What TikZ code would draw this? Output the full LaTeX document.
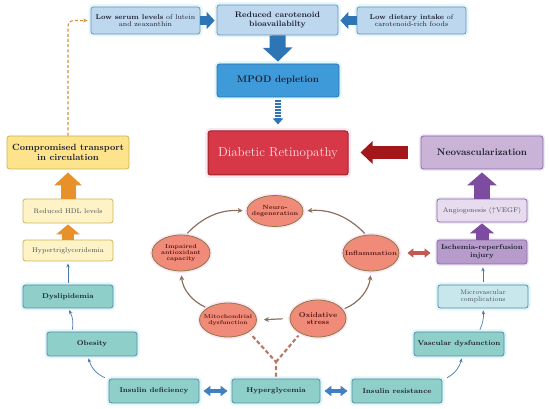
\documentclass[tikz,border=0pt]{standalone}
\usetikzlibrary{shapes.geometric,arrows.meta,calc}
\definecolor{topfill}{HTML}{BDD7EE}
\definecolor{topdraw}{HTML}{7F8DB5}
\definecolor{bluearr}{HTML}{2E75B6}
\definecolor{mpodfill}{HTML}{3E9AD8}
\definecolor{mpoddraw}{HTML}{2F6FB0}
\definecolor{drfill}{HTML}{D63848}
\definecolor{drdraw}{HTML}{9A2626}
\definecolor{drtext}{HTML}{FFE0E6}
\definecolor{redarr}{HTML}{A3161A}
\definecolor{neofill}{HTML}{C9B3D7}
\definecolor{purdraw}{HTML}{8A68A6}
\definecolor{angfill}{HTML}{E6DCEE}
\definecolor{ischfill}{HTML}{B79CCB}
\definecolor{purarr}{HTML}{7D4B9F}
\definecolor{tealfill}{HTML}{8FCFCA}
\definecolor{tealdraw}{HTML}{5B8A9E}
\definecolor{microfill}{HTML}{C8E7EC}
\definecolor{glowcyan}{HTML}{DDF7FB}
\definecolor{glowpink}{HTML}{FCE6F3}
\definecolor{glowlav}{HTML}{F1EAF7}
\definecolor{thinblue}{HTML}{4A78AE}
\definecolor{dblblue}{HTML}{3F7FC2}
\definecolor{compfill}{HTML}{FDE38C}
\definecolor{yeldraw}{HTML}{CDB352}
\definecolor{lightyel}{HTML}{FDF3C6}
\definecolor{orarr}{HTML}{E8912B}
\definecolor{dashor}{HTML}{D4903E}
\definecolor{ellfill}{HTML}{EF8B78}
\definecolor{elldraw}{HTML}{8A7A48}
\definecolor{elltext}{HTML}{5A1616}
\definecolor{ellarr}{HTML}{8D6F5F}
\definecolor{hyperdash}{HTML}{B87A68}
\definecolor{inflarr}{HTML}{C25A50}
\definecolor{ink}{HTML}{1E2030}
\definecolor{grayink}{HTML}{4A4A58}
\tikzset{
  box/.style={rectangle, rounded corners=2.5pt, line width=0.8pt, align=center, inner sep=1pt, text=ink},
  topbox/.style={box, fill=topfill, draw=topdraw, preaction={draw=glowcyan, line width=5pt},
    minimum width=109pt, minimum height=27pt, font=\fontsize{7}{7.6}\selectfont},
  bigbox/.style={box, minimum width=122pt, minimum height=33pt, font=\bfseries\fontsize{9}{10}\selectfont},
  tealbox/.style={box, fill=tealfill, draw=tealdraw, preaction={draw=glowcyan, line width=5pt},
    minimum width=90pt, minimum height=24pt, font=\bfseries\fontsize{7}{8}\selectfont},
  microbox/.style={box, fill=microfill, draw=tealdraw, preaction={draw=glowcyan, line width=5pt},
    minimum width=90pt, minimum height=23pt, font=\fontsize{6.6}{7.4}\selectfont, text=grayink},
  yelbox/.style={box, fill=lightyel, draw=yeldraw, minimum width=90pt, minimum height=23pt,
    font=\fontsize{6.8}{7.6}\selectfont, text=grayink},
  purbox/.style={box, draw=purdraw, preaction={draw=glowlav, line width=4pt},
    minimum width=90pt, minimum height=24pt},
  ell/.style={ellipse, fill=ellfill, draw=elldraw, line width=0.8pt, inner xsep=-14pt, inner ysep=-10pt, align=center,
    text=elltext, preaction={draw=glowpink, line width=4pt}, font=\bfseries\fontsize{6}{6.8}\selectfont},
  thinarr/.style={thinblue, line width=0.7pt, -{Stealth[length=4pt,width=3.5pt]}, shorten <=2pt, shorten >=2pt},
  ellarrow/.style={ellarr, line width=1.2pt, -{Stealth[length=5pt,width=5pt]}, shorten <=2pt, shorten >=4pt},
  dblarr/.style={line width=4pt, {Triangle[width=10pt,length=7pt]}-{Triangle[width=10pt,length=7pt]}, shorten <=4pt, shorten >=4pt}
}
\begin{document}
\begin{tikzpicture}[x=1pt,y=-1pt]
\useasboundingbox (0,0) rectangle (550,409);

% top row
\node[topbox] (low) at (145.5,20.5) {\textbf{Low serum levels} of lutein\\and zeaxanthin};
\node[topbox, minimum width=121pt, minimum height=30pt, font=\bfseries\fontsize{8}{9}\selectfont] (carot) at (277.5,20) {Reduced carotenoid\\bioavailabilty};
\node[topbox] (diet) at (411.5,20.5) {\textbf{Low dietary intake} of\\carotenoid-rich foods};
\node[bigbox, fill=mpodfill, draw=mpoddraw, preaction={draw=glowcyan, line width=5pt}, font=\bfseries\fontsize{9.5}{11}\selectfont] (mpod) at (278,80.5) {MPOD depletion};
\node[box, fill=drfill, draw=drdraw, line width=1pt, preaction={draw=glowpink, line width=6pt}, minimum width=140pt, minimum height=44pt, text=drtext, font=\fontsize{13}{15}\selectfont] (dr) at (278,153) {Diabetic Retinopathy};

% right column
\node[bigbox, fill=neofill, draw=purdraw, preaction={draw=glowlav, line width=4pt}, font=\bfseries\fontsize{9.6}{11}\selectfont] (neo) at (482,152.5) {Neovascularization};
\node[purbox, fill=angfill, minimum height=23pt, font=\fontsize{6.8}{7.6}\selectfont, text=grayink] (ang) at (482,210.5) {Angiogenesis (\textbf{$\uparrow$}VEGF)};
\node[purbox, fill=ischfill, font=\bfseries\fontsize{7}{7.8}\selectfont] (isch) at (482,252) {Ischemia-reperfusion\\injury};
\node[microbox] (micro) at (483,296.5) {Microvascular\\complications};
\node[tealbox] (vasc) at (459,344) {Vascular dysfunction};

% bottom row
\node[tealbox] (insres) at (397,391) {Insulin resistance};
\node[tealbox, minimum width=88pt] (hyper) at (276,391) {Hyperglycemia};
\node[tealbox] (insdef) at (154,391) {Insulin deficiency};

% left column
\node[tealbox] (obes) at (92,344) {Obesity};
\node[tealbox, minimum height=23pt] (dysl) at (68,296.5) {Dyslipidemia};
\node[yelbox, minimum height=21pt] (hypt) at (68,250.5) {Hypertriglyceridemia};
\node[yelbox, minimum height=24pt] (hdl) at (68,211) {Reduced HDL levels};
\node[bigbox, fill=compfill, draw=yeldraw] (comp) at (68,152.5) {Compromised transport\\in circulation};

% ellipses
\node[ell, minimum width=56pt, minimum height=31pt] (neuro) at (275,211) {Neuro-\\degeneration};
\node[ell, minimum width=58pt, minimum height=36pt, font=\bfseries\fontsize{5.8}{6.4}\selectfont] (imp) at (181,253) {Impaired\\antioxidant\\capacity};
\node[ell, minimum width=56pt, minimum height=36pt, font=\bfseries\fontsize{6.4}{7}\selectfont] (infl) at (371,253) {Inflammation};
\node[ell, minimum width=57pt, minimum height=34pt, font=\bfseries\fontsize{5.6}{6.3}\selectfont] (mito) at (228,320) {Mitochondrial\\dysfunction};
\node[ell, minimum width=56pt, minimum height=37pt, font=\bfseries\fontsize{7}{7.8}\selectfont] (oxi) at (318,318.5) {Oxidative\\stress};

% block arrows top
\draw[bluearr, line width=9pt, -{Triangle[width=17pt,length=8pt]}, shorten >=2pt] (low.east) -- (low.east -| carot.west);
\draw[bluearr, line width=9pt, -{Triangle[width=17pt,length=8pt]}, shorten >=2pt] (diet.west) -- (diet.west -| carot.east);
\draw[bluearr, line width=16pt, -{Triangle[width=29pt,length=14pt]}, shorten >=2pt] (carot.south) -- (mpod.north);
\draw[bluearr, line width=6pt, dash pattern=on 1.7pt off 1.3pt, -{Triangle[width=10pt,length=6pt]}, shorten <=3pt, shorten >=6pt] (mpod.south) -- (dr.north);

% red arrow
\draw[redarr, line width=13pt, -{Triangle[width=22pt,length=12pt]}, shorten <=13pt, shorten >=12pt] (neo.west) -- (neo.west -| dr.east);

% purple arrows
\draw[purarr, line width=16pt, -{Triangle[width=29pt,length=13pt]}, shorten >=3pt] (ang.north) -- (neo.south);
\draw[purarr, line width=13pt, -{Triangle[width=24pt,length=10pt]}, shorten >=1pt] (isch.north) -- (ang.south);

% orange arrows
\draw[orarr, line width=15pt, -{Triangle[width=27pt,length=13pt]}, shorten >=3pt] (hdl.north) -- (comp.south);
\draw[orarr, line width=12pt, -{Triangle[width=23pt,length=10pt]}, shorten >=1pt] (hypt.north) -- (hdl.south);

% dashed orange feedback
\draw[dashor, line width=1.1pt, dash pattern=on 3pt off 2.2pt, rounded corners=5pt, -{Stealth[length=4.5pt,width=4pt]}, shorten >=3pt] (comp.north) |- (low.west);

% double arrows
\draw[dblblue, dblarr] (insdef.east) -- (hyper.west);
\draw[dblblue, dblarr] (hyper.east) -- (insres.west);
\draw[inflarr, line width=3.5pt, {Triangle[width=9pt,length=6pt]}-{Triangle[width=9pt,length=6pt]}, shorten <=8pt, shorten >=6pt] (infl.east) -- (infl.east -| isch.west);

% thin connectors
\draw[thinarr] ([xshift=-2pt]insdef.north west) to[bend left=25] ([xshift=-4pt]obes.south);
\draw[thinarr] ([xshift=-20pt]obes.north) to[bend right=20] (dysl.south);
\draw[thinarr] (dysl.north) -- (hypt.south);
\draw[thinarr] ([xshift=3pt]insres.north east) to[bend right=25] ([xshift=3pt]vasc.south);
\draw[thinarr] ([xshift=20pt]vasc.north) to[bend right=15] (micro.south);
\draw[thinarr, shorten <=3pt, shorten >=3pt] (micro.north) -- (micro.north |- isch.south);

% ellipse cycle
\draw[ellarrow] (imp.75) to[bend left=25] (neuro.180);
\draw[ellarrow] (infl.105) to[bend right=25] (neuro.0);
\draw[ellarrow] (oxi.20) to[bend right=30] (infl.south);
\draw[ellarrow] (mito.150) to[bend left=30] (imp.south);
\draw[ellarrow, shorten <=7pt, shorten >=7pt] (oxi.west) -- (mito.east);

% hyperglycemia dashed fork
\coordinate (fork) at (276,362);
\draw[hyperdash, line width=2.2pt, dash pattern=on 4pt off 2.5pt, shorten <=2pt] (hyper.north) -- (fork) -- ($(mito.-30)!3pt!(fork)$);
\draw[hyperdash, line width=2.2pt, dash pattern=on 4pt off 2.5pt] (fork) -- ($(oxi.220)!3pt!(fork)$);
\end{tikzpicture}
\end{document}
